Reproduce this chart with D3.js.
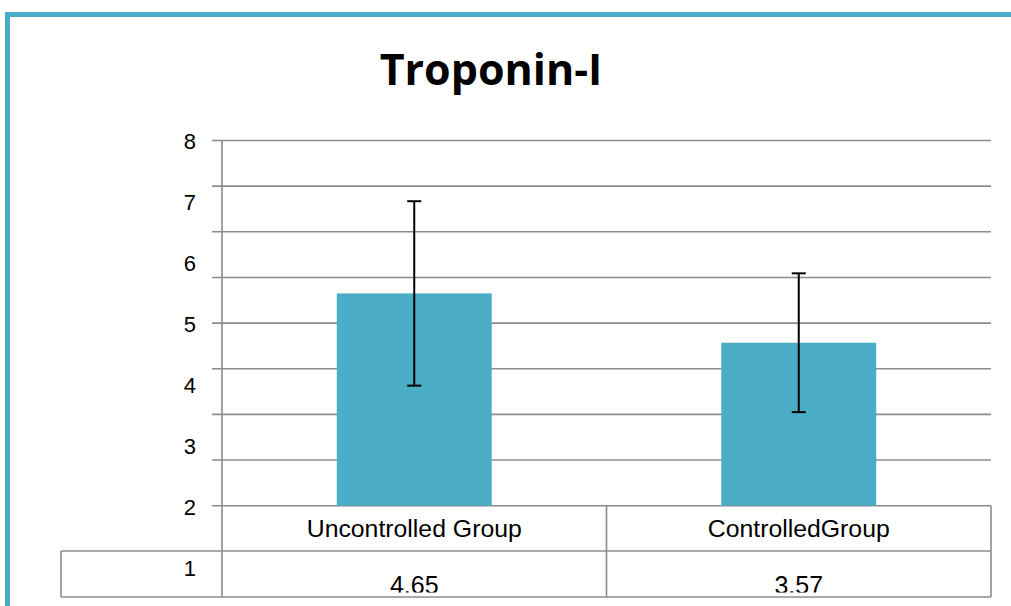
<!DOCTYPE html>
<html><head><meta charset="utf-8">
<script src="https://cdn.jsdelivr.net/npm/d3@7"></script>
<style>html,body{margin:0;padding:0;background:#fff;overflow:hidden}</style>
</head><body>
<svg id="c" width="1011" height="606"></svg>
<script>
const title = "Troponin-I";
const categories = ["Uncontrolled Group", "ControlledGroup"];
const values = [4.65, 3.57];
const errors = [2.02, 1.52];
const valueLabels = ["4.65", "3.57"];
const yTickLabels = ["8", "7", "6", "5", "4", "3", "2", "1"];
const yGridValues = [0, 1, 2, 3, 4, 5, 6, 7, 8];

const svg = d3.select("#c");
const teal = "#4BACC6";
const grid = "#8c8c8c";

// frame
svg.append("rect").attr("x", 0).attr("y", 0).attr("width", 1011).attr("height", 606).attr("fill", "#fff");
svg.append("rect").attr("x", 5).attr("y", 12).attr("width", 1006).attr("height", 5).attr("fill", teal);
svg.append("rect").attr("x", 5).attr("y", 12).attr("width", 5).attr("height", 594).attr("fill", teal);

const x = d3.scaleBand().domain(categories).range([222, 991]).padding(0);
const y = d3.scaleLinear().domain([0, 8]).range([505.7, 140.5]);
const yLab = d3.scalePoint().domain(yTickLabels).range([141, 568]);

svg.append("text").attr("x", 491).attr("y", 85).attr("text-anchor", "middle")
  .attr("font-family", "'Open Sans', sans-serif").attr("font-weight", 700).attr("font-size", 43)
  .attr("fill", "#000").text(title);

// gridlines
svg.append("g").selectAll("line").data(yGridValues).join("line")
  .attr("x1", 212).attr("x2", 991).attr("y1", d => y(d)).attr("y2", d => y(d))
  .attr("stroke", grid).attr("stroke-width", 1.6);

// bars
const bw = x.bandwidth() * 0.403;
svg.append("g").selectAll("rect").data(categories).join("rect")
  .attr("x", d => x(d) + x.bandwidth() / 2 - bw / 2)
  .attr("width", bw)
  .attr("y", (d, i) => y(values[i]))
  .attr("height", (d, i) => y(0) - y(values[i]))
  .attr("fill", "#4AACC5");

// error bars
const eb = svg.append("g").attr("stroke", "#000").attr("stroke-width", 2);
categories.forEach((c, i) => {
  const cx = x(c) + x.bandwidth() / 2;
  const hi = y(values[i] + errors[i]), lo = y(values[i] - errors[i]);
  eb.append("line").attr("x1", cx).attr("x2", cx).attr("y1", hi).attr("y2", lo);
  eb.append("line").attr("x1", cx - 7).attr("x2", cx + 7).attr("y1", hi).attr("y2", hi);
  eb.append("line").attr("x1", cx - 7).attr("x2", cx + 7).attr("y1", lo).attr("y2", lo);
});

// table lines
const tl = svg.append("g").attr("stroke", grid).attr("stroke-width", 1.6).attr("fill", "none");
tl.append("line").attr("x1", 222).attr("x2", 222).attr("y1", 140).attr("y2", 597);
tl.append("line").attr("x1", 61).attr("x2", 991).attr("y1", 551).attr("y2", 551);
tl.append("line").attr("x1", 61).attr("x2", 991).attr("y1", 597).attr("y2", 597);
tl.append("line").attr("x1", 61).attr("x2", 61).attr("y1", 551).attr("y2", 597);
tl.append("line").attr("x1", 991).attr("x2", 991).attr("y1", 505.7).attr("y2", 597);
tl.append("line").attr("x1", x(categories[1])).attr("x2", x(categories[1])).attr("y1", 505.7).attr("y2", 597);

// y labels
svg.append("g").selectAll("text").data(yTickLabels).join("text")
  .attr("x", 196).attr("y", d => yLab(d) + 7.5).attr("text-anchor", "end")
  .attr("font-family", "'Liberation Sans', Arial, sans-serif").attr("font-size", 22).attr("fill", "#000")
  .text(d => d);

// category labels
svg.append("g").selectAll("text").data(categories).join("text")
  .attr("x", d => x(d) + x.bandwidth() / 2).attr("y", 537).attr("text-anchor", "middle")
  .attr("font-family", "'Liberation Sans', Arial, sans-serif").attr("font-size", 24.8).attr("fill", "#000")
  .text(d => d);

// value labels (clipped by row border)
svg.append("clipPath").attr("id", "vc").append("rect").attr("x", 222).attr("y", 552).attr("width", 769).attr("height", 40.5);
svg.append("g").attr("clip-path", "url(#vc)").selectAll("text").data(valueLabels).join("text")
  .attr("x", (d, i) => x(categories[i]) + x.bandwidth() / 2).attr("y", 593.5).attr("text-anchor", "middle")
  .attr("font-family", "'Liberation Sans', Arial, sans-serif").attr("font-size", 25).attr("fill", "#000")
  .text(d => d);
</script>
</body></html>
